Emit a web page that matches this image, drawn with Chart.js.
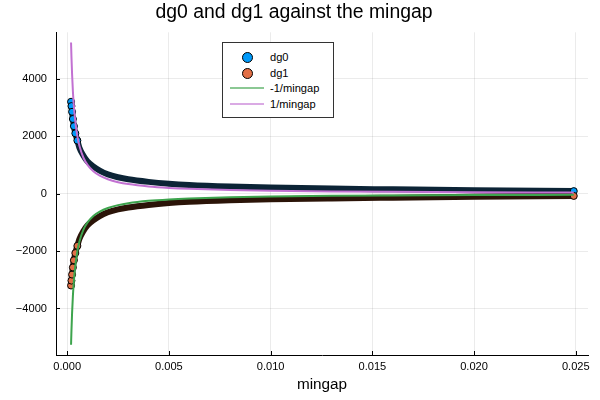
<!DOCTYPE html>
<html>
<head>
<meta charset="utf-8">
<script src="https://cdn.jsdelivr.net/npm/chart.js@4"></script>
<style>
  body { margin: 0; background: #fff; }
  #wrap { position: relative; width: 600px; height: 400px; }
  #legend {
    position: absolute; left: 222px; top: 42px; width: 110px; height: 74px;
    border: 1px solid #333; background: #fff;
    font: 11.1px "Liberation Sans", Arial, sans-serif; color: #000;
  }
  .row { position: absolute; left: 0; height: 14px; width: 110px; }
  .row span.txt { position: absolute; left: 47px; top: 0; line-height: 14px; }
  .dot { position: absolute; left: 19px; top: 2px; width: 9px; height: 9px;
         border: 1px solid #000; border-radius: 50%; }
  .ln  { position: absolute; left: 7px; top: 6px; width: 34px; height: 2px; }
</style>
</head>
<body>
<div id="wrap">
  <canvas id="chart" width="600" height="400"></canvas>
  <div id="legend"></div>
</div>
<script>
/* ─── DATA ───────────────────────────────────────────── */
const mingap = [0.00019, 0.00021, 0.00024, 0.00028, 0.00033, 0.0004, 0.0005, 0.0006,
                0.0008, 0.001, 0.0013, 0.0016, 0.002, 0.0025, 0.003, 0.004, 0.005,
                0.006, 0.008, 0.01, 0.013, 0.016, 0.02, 0.0249];
const dg0    = [3200, 3050, 2850, 2600, 2350, 2100, 1850, 1600, 1320, 1120, 940, 800,
                670, 570, 500, 410, 345, 300, 245, 210, 175, 150, 118, 88];
const dg1    = [-3200, -3030, -2820, -2570, -2320, -2070, -1820, -1580, -1300, -1100,
                -920, -780, -650, -550, -485, -395, -330, -285, -232, -198, -165, -140,
                -110, -80];
const negInv = [-5263, -4762, -4167, -3571, -3030, -2500, -2000, -1667, -1250, -1000,
                -769, -625, -500, -400, -333, -250, -200, -167, -125, -100, -77, -62.5,
                -50, -40.2];
const posInv = [5263, 4762, 4167, 3571, 3030, 2500, 2000, 1667, 1250, 1000, 769, 625,
                500, 400, 333, 250, 200, 167, 125, 100, 77, 62.5, 50, 40.2];

const xTicks = [0, 0.005, 0.01, 0.015, 0.02, 0.025];
const yTicks = [-4000, -2000, 0, 2000, 4000];

/* ─── CHART ──────────────────────────────────────────── */
const FONT = "'Liberation Sans', Arial, sans-serif";
const pts = ys => mingap.map((x, i) => ({ x, y: ys[i] }));
const last = mingap.length - 1;
const markerR = c => (c.dataIndex < 7 || c.dataIndex === last) ? 3.5 : 0;

const series = [
  { label: "dg0", data: pts(dg0), color: "#009afa", band: "#0c2436", kind: "dot" },
  { label: "dg1", data: pts(dg1), color: "#e26f46", band: "#2b1408", kind: "dot" },
  { label: "-1/mingap", data: pts(negInv), color: "#3da44d", kind: "line" },
  { label: "1/mingap", data: pts(posInv), color: "#c271d2", kind: "line" },
];

const datasets = series.map((s, i) => s.kind === "dot" ? {
  label: s.label,
  data: s.data,
  showLine: true,
  borderColor: s.band,
  borderWidth: 6,
  borderCapStyle: "round",
  borderJoinStyle: "round",
  cubicInterpolationMode: "monotone",
  pointRadius: markerR,
  pointBackgroundColor: s.color,
  pointBorderColor: "#000",
  pointBorderWidth: 1,
  order: 4 - i,
} : {
  label: s.label,
  data: s.data,
  showLine: true,
  borderColor: s.color,
  borderWidth: 2,
  cubicInterpolationMode: "monotone",
  pointRadius: 0,
  order: 4 - i,
});

// small inward tick marks on both axes, like the original
const innerTicks = {
  id: "innerTicks",
  afterDraw(chart) {
    const { ctx, chartArea: a, scales: { x, y } } = chart;
    ctx.save();
    ctx.strokeStyle = "#000";
    ctx.lineWidth = 1;
    ctx.beginPath();
    xTicks.forEach(v => {
      const px = Math.round(x.getPixelForValue(v)) + 0.5;
      ctx.moveTo(px, a.bottom); ctx.lineTo(px, a.bottom - 4);
    });
    yTicks.forEach(v => {
      const py = Math.round(y.getPixelForValue(v)) + 0.5;
      ctx.moveTo(a.left, py); ctx.lineTo(a.left + 4, py);
    });
    ctx.stroke();
    ctx.restore();
  },
};

new Chart(document.getElementById("chart"), {
  type: "scatter",
  data: { datasets },
  plugins: [innerTicks],
  options: {
    responsive: false,
    animation: false,
    devicePixelRatio: 1,
    layout: { padding: { left: 0, right: 12, top: 0, bottom: 0 } },
    plugins: {
      legend: { display: false },
      tooltip: { enabled: false },
      title: {
        display: true,
        text: "dg0 and dg1 against the mingap",
        color: "#000",
        font: { family: FONT, size: 19.4, weight: "normal" },
        padding: { top: 1, bottom: 8 },
      },
    },
    scales: {
      x: {
        type: "linear",
        min: -0.00055,
        max: 0.0256,
        afterBuildTicks: s => { s.ticks = xTicks.map(v => ({ value: v })); },
        afterFit: s => { s.height = 45; },
        grid: { color: "rgba(0,0,0,0.08)", drawTicks: false },
        border: { color: "#000", width: 1 },
        ticks: {
          color: "#000",
          padding: 5,
          font: { family: FONT, size: 11.1 },
          callback: v => v.toFixed(3),
        },
        title: {
          display: true,
          text: "mingap",
          color: "#000",
          font: { family: FONT, size: 15.3 },
          padding: { top: 0, bottom: 6 },
        },
      },
      y: {
        type: "linear",
        min: -5620,
        max: 5620,
        afterBuildTicks: s => { s.ticks = yTicks.map(v => ({ value: v })); },
        afterFit: s => { s.width = 56; },
        grid: { color: "rgba(0,0,0,0.08)", drawTicks: false },
        border: { color: "#000", width: 1 },
        ticks: {
          color: "#000",
          padding: 9,
          font: { family: FONT, size: 11.1 },
          callback: v => v < 0 ? "\u2212" + Math.abs(v) : String(v),
        },
      },
    },
  },
});

/* ─── LEGEND ─────────────────────────────────────────── */
const legend = document.getElementById("legend");
legend.innerHTML = series.map((s, i) => `
  <div class="row" style="top:${7 + i * 15.7}px">
    ${s.kind === "dot"
      ? `<div class="dot" style="background:${s.color}"></div>`
      : `<div class="ln" style="background:${s.color};opacity:0.6"></div>`}
    <span class="txt">${s.label}</span>
  </div>
`).join("");
</script>
</body>
</html>
